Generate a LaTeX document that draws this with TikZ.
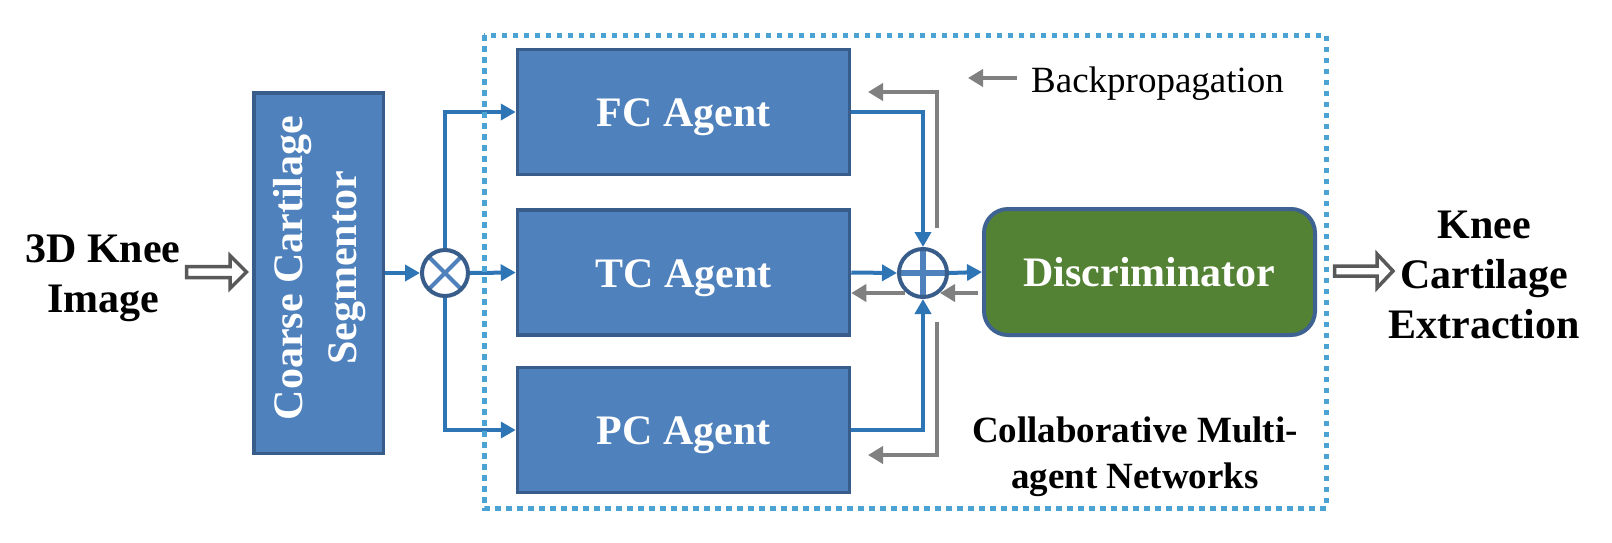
\documentclass[tikz,border=0pt]{standalone}
\usepackage{fontspec}
\setmainfont{Liberation Serif}
\usetikzlibrary{arrows.meta,calc}
\definecolor{boxfill}{RGB}{79,129,189}
\definecolor{boxline}{RGB}{56,93,138}
\definecolor{flowblue}{RGB}{46,117,182}
\definecolor{discgreen}{RGB}{84,130,53}
\definecolor{discline}{RGB}{62,98,145}
\definecolor{backgray}{RGB}{128,128,128}
\definecolor{hollowgray}{RGB}{89,89,89}
\definecolor{framedot}{RGB}{75,163,212}
\begin{document}
\begin{tikzpicture}[x=1pt,y=-1pt,
  bigbold/.style={font=\bfseries\fontsize{42}{50}\selectfont, text=black, inner sep=0pt, align=center},
  agentbox/.style={draw=boxline, line width=3.5pt, fill=boxfill, minimum width=332pt, minimum height=125pt,
     inner sep=0pt, text=white, font=\bfseries\fontsize{42}{50}\selectfont, text height=29pt, text depth=0pt},
  segbox/.style={draw=boxline, line width=3.5pt, fill=boxfill, minimum width=129.5pt, minimum height=360.5pt, inner sep=0pt},
  discbox/.style={draw=discline, line width=4pt, fill=discgreen, rounded corners=24pt, minimum width=331pt, minimum height=126pt,
     inner sep=0pt, text=white, font=\bfseries\fontsize{42}{50}\selectfont, text height=29pt, text depth=0pt},
  mulnode/.style={circle, draw=boxline, line width=4pt, fill=white, minimum size=46pt, inner sep=0pt,
     path picture={\draw[boxfill, line width=4pt] (path picture bounding box.north west) -- (path picture bounding box.south east)
        (path picture bounding box.north east) -- (path picture bounding box.south west);}},
  addnode/.style={circle, draw=boxline, line width=4pt, fill=white, minimum size=48pt, inner sep=0pt,
     path picture={\draw[boxfill, line width=6pt] (path picture bounding box.north) -- (path picture bounding box.south)
        (path picture bounding box.east) -- (path picture bounding box.west);}},
  flow/.style={draw=flowblue, line width=4pt, -{Triangle[length=15pt,width=16pt]}},
  back/.style={draw=backgray, line width=4.5pt, -{Triangle[length=15pt,width=17pt]}},
  hollow/.style={draw=hollowgray, line width=3.5pt, fill=white, line join=miter},
  dotframe/.style={draw=framedot, line width=5pt, dash pattern=on 5.5pt off 5.5pt}
]
\useasboundingbox (0,0) rectangle (1612,542);

% nodes
\node[bigbold, anchor=base] (input) at (103,312) {3D Knee\\Image};
\node[segbox] (seg) at (318.5,273) {};
\node[rotate=90, text=white, font=\bfseries\fontsize{42}{54}\selectfont, align=center, inner sep=0pt] (segtext) at (320,268) {Coarse Cartilage\\Segmentor};
\node[mulnode] (ot) at (445,273) {};
\node[agentbox] (fc) at (683.5,112) {FC Agent};
\node[agentbox] (tc) at (683.5,272.5) {TC Agent};
\node[agentbox] (pc) at (683.5,430) {PC Agent};
\node[addnode] (op) at (923,273) {};
\node[discbox] (disc) at (1149.5,272) {Discriminator};
\node[bigbold, anchor=base] (output) at (1484,338) {Knee\\Cartilage\\Extraction};
\node[font=\fontsize{37}{44}\selectfont, anchor=base west, inner sep=0pt] (legtext) at (1031,92) {Backpropagation};
\node[font=\bfseries\fontsize{37}{46}\selectfont, anchor=base, align=center, inner sep=0pt] (title) at (1135,488) {Collaborative Multi-\\agent Networks};

% hollow input / output arrows
\coordinate (inarr) at (186.5,272);
\coordinate (outarr) at (1334.5,271);
\draw[hollow] (inarr) -- ++(0,-5.5) -- ++(43.5,0) -- ++(0,-11) -- ++(16.5,16.5) -- ++(-16.5,16.5) -- ++(0,-11) -- ++(-43.5,0) -- cycle;
\draw[hollow] (outarr) -- ++(0,-5) -- ++(42.5,0) -- ++(0,-12) -- ++(16,17) -- ++(-16,17) -- ++(0,-12) -- ++(-42.5,0) -- cycle;

% forward flow
\draw[flow] (seg.east) -- (ot.west);
\draw[flow] (ot.north) |- (fc.west);
\draw[flow] (ot.east) -- (tc.west);
\draw[flow] (ot.south) |- (pc.west);
\draw[flow] (fc.east) -| (op.north);
\draw[flow] (tc.east) -- (op.west);
\draw[flow] (pc.east) -| (op.south);
\draw[flow] (op.east) -- (disc.west);

% backpropagation
\coordinate (gu) at (937,228);
\coordinate (gut) at (868,92);
\coordinate (gl) at (937,322);
\coordinate (glt) at (868,455);
\coordinate (gml) at (905,293);
\coordinate (gmr) at (940,293);
\draw[back] (gu) |- (gut);
\draw[back] (gl) |- (glt);
\draw[back] (gml) -- (tc.east |- gml);
\draw[back, shorten <=4pt] (disc.west |- gmr) -- (gmr);
\coordinate (leg1) at (1017,78);
\coordinate (leg2) at (968,78);
\draw[back] (leg1) -- (leg2);

% dotted frame
\draw[dotframe] (484,35) rectangle (1326,508);
\end{tikzpicture}
\end{document}
